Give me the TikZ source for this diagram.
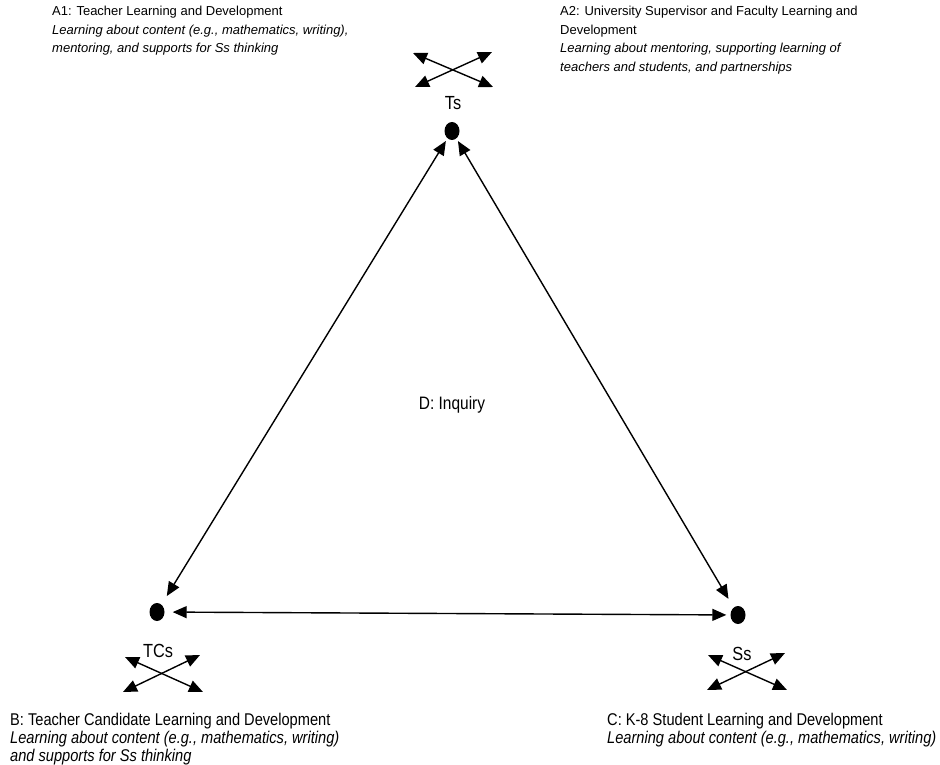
\documentclass[tikz,border=0pt]{standalone}
\usepackage{fontspec}
\setmainfont{Liberation Sans}
\newfontfamily\narrowfont[FakeStretch=0.86]{Liberation Sans}
\usetikzlibrary{arrows.meta,shapes.geometric}

\tikzset{
  dot/.style={ellipse,fill=black,inner sep=0pt,minimum width=15pt,minimum height=18pt},
  twoway/.style={{Triangle[length=14pt,width=12pt]}-{Triangle[length=14pt,width=12pt]},line width=1.4pt},
  toptext/.style={anchor=north west,align=left,inner sep=0pt,font=\fontsize{13}{18.5}\selectfont},
  bottext/.style={anchor=north west,align=left,inner sep=0pt,font=\narrowfont\fontsize{17}{18}\selectfont},
  cornerlabel/.style={font=\narrowfont\fontsize{19}{20}\selectfont}
}

\begin{document}
\begin{tikzpicture}[x=1pt,y=-1pt]
  \useasboundingbox[fill=white] (0,0) rectangle (940,765);

  \node (A1) at (52,6) [toptext] {A1: Teacher Learning and Development\\
    \textit{Learning about content (e.g., mathematics, writing),}\\
    \textit{mentoring, and supports for Ss thinking}};
  \node (A2) at (560,6) [toptext] {A2: University Supervisor and Faculty Learning and\\
    Development\\
    \textit{Learning about mentoring, supporting learning of}\\
    \textit{teachers and students, and partnerships}};
  \node (B) at (10,713) [bottext] {B: Teacher Candidate Learning and Development\\
    \textit{Learning about content (e.g., mathematics, writing)}\\
    \textit{and supports for Ss thinking}};
  \node (C) at (607,713) [bottext] {C: K-8 Student Learning and Development\\
    \textit{Learning about content (e.g., mathematics, writing)}};
  \node (D) at (452,405) [font=\narrowfont\fontsize{18}{20}\selectfont] {D: Inquiry};

  % corners of the triangle
  \node (Ts) at (452,131) [dot] {};
  \node (TCs) at (157,612) [dot] {};
  \node (Ss) at (738,615) [dot] {};
  \node (TsL) at (453,103) [cornerlabel] {Ts};
  \node (TCsL) at (158,651) [cornerlabel] {TCs};
  \node (SsL) at (742,654) [cornerlabel] {Ss};

  \draw[twoway,shorten <=3pt,shorten >=10pt] (Ts) -- (TCs);
  \draw[twoway,shorten <=3pt,shorten >=10pt] (Ts) -- (Ss);
  \draw[twoway,shorten <=8pt,shorten >=4pt] (TCs) -- (Ss);

  % crossed arrows at each corner
  \coordinate (TsUL) at (413,53);  \coordinate (TsUR) at (492,52);
  \coordinate (TsLL) at (415,87);  \coordinate (TsLR) at (493,87);
  \draw[twoway] (TsUL) -- (TsLR);
  \draw[twoway] (TsLL) -- (TsUR);

  \coordinate (TCsUL) at (125,657); \coordinate (TCsUR) at (200,655);
  \coordinate (TCsLL) at (123,692); \coordinate (TCsLR) at (203,692);
  \draw[twoway] (TCsUL) -- (TCsLR);
  \draw[twoway] (TCsLL) -- (TCsUR);

  \coordinate (SsUL) at (708,655); \coordinate (SsUR) at (785,653);
  \coordinate (SsLL) at (707,690); \coordinate (SsLR) at (787,690);
  \draw[twoway] (SsUL) -- (SsLR);
  \draw[twoway] (SsLL) -- (SsUR);
\end{tikzpicture}
\end{document}
